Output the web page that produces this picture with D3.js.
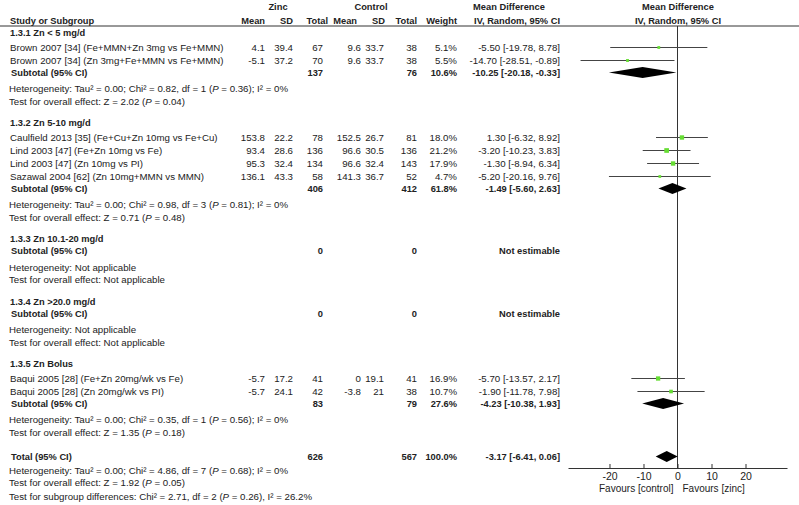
<!DOCTYPE html>
<html>
<head>
<meta charset="utf-8">
<script src="https://cdn.jsdelivr.net/npm/d3@7"></script>
<style>
  body { margin: 0; background: #fff; }
  text { font-family: "Liberation Sans", Arial, sans-serif; font-size: 9.7px; fill: #222; }
  .b { font-weight: bold; font-size: 9.3px; }
</style>
</head>
<body>
<div id="wrapper"></div>
<script>
// ---- data ----
const groupNames = ["1.3.1 Zn < 5 mg/d", "1.3.2 Zn 5-10 mg/d", "1.3.3 Zn 10.1-20 mg/d", "1.3.4 Zn >20.0 mg/d", "1.3.5 Zn Bolus"];

const studyNames = [
  "Brown 2007 [34] (Fe+MMN+Zn 3mg vs Fe+MMN)",
  "Brown 2007 [34] (Zn 3mg+Fe+MMN vs Fe+MMN)",
  "Caulfield 2013 [35] (Fe+Cu+Zn 10mg vs Fe+Cu)",
  "Lind 2003 [47] (Fe+Zn 10mg vs Fe)",
  "Lind 2003 [47] (Zn 10mg vs PI)",
  "Sazawal 2004 [62] (Zn 10mg+MMN vs MMN)",
  "Baqui 2005 [28] (Fe+Zn 20mg/wk vs Fe)",
  "Baqui 2005 [28] (Zn 20mg/wk vs PI)"
];
const studyGroup = [0, 0, 1, 1, 1, 1, 4, 4];
const zincMean = [4.1, -5.1, 153.8, 93.4, 95.3, 136.1, -5.7, -5.7];
const zincSD = [39.4, 37.2, 22.2, 28.6, 32.4, 43.3, 17.2, 24.1];
const zincN = [67, 70, 78, 136, 134, 58, 41, 42];
const ctrlMean = [9.6, 9.6, 152.5, 96.6, 96.6, 141.3, 0, -3.8];
const ctrlSD = [33.7, 33.7, 26.7, 30.5, 32.4, 36.7, 19.1, 21];
const ctrlN = [38, 38, 81, 136, 143, 52, 41, 38];
const weights = [5.1, 5.5, 18.0, 21.2, 17.9, 4.7, 16.9, 10.7];
const md = [-5.50, -14.70, 1.30, -3.20, -1.30, -5.20, -5.70, -1.90];
const ciLow = [-19.78, -28.51, -6.32, -10.23, -8.94, -20.16, -13.57, -11.78];
const ciHigh = [8.78, -0.89, 8.92, 3.83, 6.34, 9.76, 2.17, 7.98];

// subtotals per group (null = not estimable)
const subZincN = [137, 406, 0, 0, 83];
const subCtrlN = [76, 412, 0, 0, 79];
const subWeight = [10.6, 61.8, null, null, 27.6];
const subMD = [-10.25, -1.49, null, null, -4.23];
const subLow = [-20.18, -5.60, null, null, -10.38];
const subHigh = [-0.33, 2.63, null, null, 1.93];
const hetTau = [0.00, 0.00, null, null, 0.00];
const hetChi = [0.82, 0.98, null, null, 0.35];
const hetDf = [1, 3, null, null, 1];
const hetP = [0.36, 0.81, null, null, 0.56];
const hetI2 = [0, 0, null, null, 0];
const testZ = [2.02, 0.71, null, null, 1.35];
const testP = [0.04, 0.48, null, null, 0.18];

// overall
const totalZincN = 626, totalCtrlN = 567, totalWeight = 100.0;
const totalMD = -3.17, totalLow = -6.41, totalHigh = 0.06;
const totalHet = { tau: 0.00, chi: 4.86, df: 7, p: 0.68, i2: 0 };
const totalTest = { z: 1.92, p: 0.05 };
const subgroupTest = { chi: 2.71, df: 2, p: 0.26, i2: "26.2" };

const xTicks = [-20, -10, 0, 10, 20];

// ---- layout ----
const width = 799, height = 505;
const loc = d3.formatLocale({ decimal: ".", thousands: ",", grouping: [3], currency: ["", ""], minus: "-" });
const f2 = loc.format(".2f"), f1 = loc.format(".1f"), fd = loc.format("d");
const ciText = (m, l, h) => `${f2(m)} [${f2(l)}, ${f2(h)}]`;

const col = { name: 9, zMean: 265, zSD: 293, zN: 323, cMean: 361, cSD: 384, cN: 417, w: 457, ci: 560 };

// build rows
const rows = [];
groupNames.forEach((g, gi) => {
  rows.push({ kind: "group", label: g });
  studyNames.forEach((s, i) => {
    if (studyGroup[i] === gi) rows.push({ kind: "study", i });
  });
  rows.push({ kind: "subtotal", gi });
  rows.push({ kind: "het", gi });
  rows.push({ kind: "test", gi });
});
rows.push({ kind: "total" });
rows.push({ kind: "het", total: true });
rows.push({ kind: "test", total: true });
rows.push({ kind: "subgroup" });

// vertical spacing depends on what came before
function gap(prev, cur) {
  if (cur.kind === "group") return 21.5;
  if (cur.kind === "study") return prev.kind === "group" ? 14.5 : 13;
  if (cur.kind === "subtotal") return 12;
  if (cur.kind === "het") return prev.kind === "total" ? 14 : 16.5;
  if (cur.kind === "test") return 12.5;
  if (cur.kind === "total") return 24;
  return 13.5;
}
let yy = 33;
rows.forEach((r, k) => {
  if (k > 0) yy += gap(rows[k - 1], r);
  r.y = yy;
});

const xScale = d3.scaleLinear().domain([-32.2, 32.2]).range([568, 787]);
const axisY = 468;
const headerLine = 26;

const svg = d3.select("#wrapper").append("svg")
  .attr("width", width).attr("height", height);

function txt(x, y, s, anchor, bold) {
  return svg.append("text")
    .attr("x", x).attr("y", y).attr("dy", "0.35em")
    .attr("text-anchor", anchor || "start")
    .classed("b", !!bold)
    .text(s);
}
// text with italic P pieces
function richTxt(x, y, parts) {
  const t = svg.append("text").attr("x", x).attr("y", y).attr("dy", "0.35em");
  parts.forEach(p => {
    t.append("tspan").attr("font-style", p[1] ? "italic" : null).text(p[0]);
  });
  return t;
}

// ---- header ----
txt(278, 7, "Zinc", "middle", true);
txt(371, 7, "Control", "middle", true);
txt(509, 7, "Mean Difference", "middle", true);
txt(678, 7, "Mean Difference", "middle", true);
txt(col.name + 1, 21, "Study or Subgroup", "start", true);
txt(265, 21, "Mean", "end", true);
txt(293, 21, "SD", "end", true);
txt(328, 21, "Total", "end", true);
txt(357, 21, "Mean", "end", true);
txt(385, 21, "SD", "end", true);
txt(417, 21, "Total", "end", true);
txt(457, 21, "Weight", "end", true);
txt(560, 21, "IV, Random, 95% CI", "end", true);
txt(678, 21, "IV, Random, 95% CI", "middle", true);

svg.append("line")
  .attr("x1", 0).attr("x2", width)
  .attr("y1", headerLine).attr("y2", headerLine)
  .attr("stroke", "#333").attr("stroke-width", 1);

// zero line
svg.append("line")
  .attr("x1", xScale(0)).attr("x2", xScale(0))
  .attr("y1", headerLine).attr("y2", axisY)
  .attr("stroke", "#333").attr("stroke-width", 1);

function diamond(y, m, l, h) {
  const hh = 5.5;
  svg.append("path")
    .attr("d", `M${xScale(l)},${y}L${xScale(m)},${y - hh}L${xScale(h)},${y}L${xScale(m)},${y + hh}Z`)
    .attr("fill", "#000");
}

// ---- rows ----
rows.forEach(r => {
  const y = r.y;
  if (r.kind === "group") {
    txt(col.name + 1, y, r.label, "start", true);
  } else if (r.kind === "study") {
    const i = r.i;
    txt(col.name + 1, y, studyNames[i]);
    txt(col.zMean, y, String(zincMean[i]), "end");
    txt(col.zSD, y, String(zincSD[i]), "end");
    txt(col.zN, y, String(zincN[i]), "end");
    txt(col.cMean, y, String(ctrlMean[i]), "end");
    txt(col.cSD, y, String(ctrlSD[i]), "end");
    txt(col.cN, y, String(ctrlN[i]), "end");
    txt(col.w, y, f1(weights[i]) + "%", "end");
    txt(col.ci, y, ciText(md[i], ciLow[i], ciHigh[i]), "end");
    svg.append("line")
      .attr("x1", xScale(ciLow[i])).attr("x2", xScale(ciHigh[i]))
      .attr("y1", y).attr("y2", y)
      .attr("stroke", "#444").attr("stroke-width", 1);
    const s = 1 + Math.sqrt(weights[i]) * 0.8;
    svg.append("rect")
      .attr("x", xScale(md[i]) - s / 2).attr("y", y - s / 2)
      .attr("width", s).attr("height", s)
      .attr("fill", "#66dd33");
  } else if (r.kind === "subtotal") {
    const g = r.gi;
    txt(col.name + 2, y, "Subtotal (95% CI)", "start", true);
    txt(col.zN, y, String(subZincN[g]), "end", true);
    txt(col.cN, y, String(subCtrlN[g]), "end", true);
    if (subMD[g] === null) {
      txt(col.ci, y, "Not estimable", "end", true);
    } else {
      txt(col.w, y, f1(subWeight[g]) + "%", "end", true);
      txt(col.ci, y, ciText(subMD[g], subLow[g], subHigh[g]), "end", true);
      diamond(y, subMD[g], subLow[g], subHigh[g]);
    }
  } else if (r.kind === "het") {
    const h = r.total ? totalHet : (hetChi[r.gi] === null ? null :
      { tau: hetTau[r.gi], chi: hetChi[r.gi], df: hetDf[r.gi], p: hetP[r.gi], i2: hetI2[r.gi] });
    if (h === null) {
      txt(col.name, y, "Heterogeneity: Not applicable");
    } else {
      richTxt(col.name, y, [
        [`Heterogeneity: Tau² = ${f2(h.tau)}; Chi² = ${f2(h.chi)}, df = ${h.df} (`, false],
        ["P", true],
        [` = ${f2(h.p)}); I² = ${h.i2}%`, false]
      ]);
    }
  } else if (r.kind === "test") {
    const t = r.total ? totalTest : (testZ[r.gi] === null ? null : { z: testZ[r.gi], p: testP[r.gi] });
    if (t === null) {
      txt(col.name, y, "Test for overall effect: Not applicable");
    } else {
      richTxt(col.name, y, [
        [`Test for overall effect: Z = ${f2(t.z)} (`, false],
        ["P", true],
        [` = ${f2(t.p)})`, false]
      ]);
    }
  } else if (r.kind === "total") {
    txt(col.name + 2, y, "Total (95% CI)", "start", true);
    txt(col.zN, y, String(totalZincN), "end", true);
    txt(col.cN, y, String(totalCtrlN), "end", true);
    txt(col.w, y, f1(totalWeight) + "%", "end", true);
    txt(col.ci, y, ciText(totalMD, totalLow, totalHigh), "end", true);
    diamond(y, totalMD, totalLow, totalHigh);
  } else if (r.kind === "subgroup") {
    const s = subgroupTest;
    richTxt(col.name, y, [
      [`Test for subgroup differences: Chi² = ${f2(s.chi)}, df = ${s.df} (`, false],
      ["P", true],
      [` = ${f2(s.p)}), I² = ${s.i2}%`, false]
    ]);
  }
});

// ---- axis ----
const xAxisGen = d3.axisBottom(xScale)
  .tickValues(xTicks)
  .tickSizeInner(-4)
  .tickSizeOuter(0)
  .tickPadding(5)
  .tickFormat(fd);
const xAxis = svg.append("g")
  .attr("transform", `translate(0,${axisY})`)
  .call(xAxisGen);
xAxis.select(".domain").attr("stroke", "#333");
xAxis.selectAll(".tick line").attr("stroke", "#333");
xAxis.selectAll(".tick text")
  .attr("font-family", null).attr("font-size", null)
  .style("font-family", "'Liberation Sans', Arial, sans-serif")
  .style("font-size", "10.5px").style("fill", "#222");

txt(xScale(0) - 4, 488, "Favours [control]", "end").style("font-size", "10px");
txt(xScale(0) + 5, 488, "Favours [zinc]", "start").style("font-size", "10px");
</script>
</body>
</html>
